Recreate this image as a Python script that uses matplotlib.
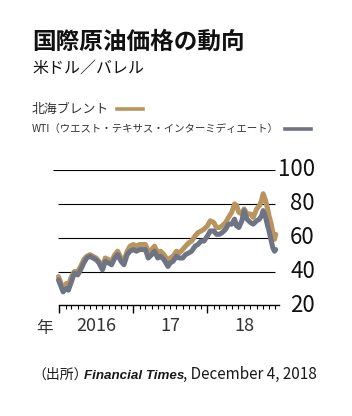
import numpy as np
import matplotlib.pyplot as plt
import matplotlib.dates as mdates
import matplotlib.transforms as mtransforms
from matplotlib.lines import Line2D

plt.rcParams['font.family'] = ['Noto Sans CJK JP', 'DejaVu Sans']

# semi-monthly readings (USD / barrel)
dates = [
    "2015-12-28", "2016-01-10", "2016-01-20", "2016-02-05", "2016-02-15", "2016-03-01",
    "2016-03-15", "2016-04-01", "2016-04-15", "2016-05-01", "2016-05-15", "2016-06-01",
    "2016-06-15", "2016-07-01", "2016-07-15", "2016-08-01", "2016-08-15", "2016-09-01",
    "2016-09-15", "2016-10-01", "2016-10-15", "2016-11-01", "2016-11-15", "2016-12-01",
    "2016-12-15", "2017-01-01", "2017-01-15", "2017-02-01", "2017-02-15", "2017-03-01",
    "2017-03-15", "2017-04-01", "2017-04-15", "2017-05-01", "2017-05-15", "2017-06-01",
    "2017-06-20", "2017-07-01", "2017-07-15", "2017-08-01", "2017-08-15", "2017-09-01",
    "2017-09-15", "2017-10-01", "2017-10-15", "2017-11-01", "2017-11-15", "2017-12-01",
    "2017-12-15", "2018-01-01", "2018-01-15", "2018-02-01", "2018-02-15", "2018-03-01",
    "2018-03-15", "2018-04-01", "2018-04-15", "2018-05-01", "2018-05-15", "2018-05-25",
    "2018-06-05", "2018-06-20", "2018-07-01", "2018-07-15", "2018-08-01", "2018-08-15",
    "2018-09-01", "2018-09-15", "2018-09-25", "2018-10-03", "2018-10-15", "2018-10-25",
    "2018-11-01", "2018-11-12", "2018-11-20", "2018-11-28", "2018-12-04",
]
brent = [
    37, 33, 29, 33, 32, 37,
    40, 40, 43, 47, 49, 50,
    49, 48, 46, 43, 48, 47,
    46, 50, 52, 48, 46, 52,
    55, 56, 55, 56, 56, 56,
    52, 53, 55, 51, 52, 50,
    46, 48, 49, 52, 51, 53,
    55, 57, 58, 61, 63, 64,
    65, 67, 70, 69, 66, 66,
    67, 69, 72, 75, 80, 79,
    75, 74, 77, 74, 74, 72,
    77, 79, 82, 86, 82, 77,
    73, 68, 63, 59, 62,
]
wti = [
    35, 31, 28, 30, 29, 34,
    39, 38, 41, 45, 48, 49,
    48, 47, 45, 41, 46, 45,
    44, 48, 50, 46, 44, 50,
    52, 53, 52, 53, 53, 53,
    48, 50, 52, 48, 49, 47,
    43, 45, 46, 49, 48, 48,
    50, 51, 52, 55, 56, 58,
    58, 61, 64, 64, 62, 62,
    63, 65, 68, 68, 71, 67,
    66, 70, 76, 71, 69, 68,
    70, 71, 73, 76, 72, 67,
    64, 58, 54, 52, 53,
]
y_ticks = [20, 40, 60, 80, 100]
year_labels = ["2016", "17", "18"]
year_label_dates = ["2016-07-01", "2017-07-01", "2018-07-01"]

BRENT_COLOR = "#b8945f"
WTI_COLOR = "#6f7484"
W, H = 352, 416

def num(s):
    return mdates.date2num(np.datetime64(s))

fig = plt.figure(figsize=(W / 100, H / 100), dpi=100)
ax = fig.add_axes([53 / W, 1 - 305.4 / H, 229 / W, 135.4 / H])

d = np.array(dates, dtype="datetime64[D]")
ax.plot(d, brent, color=BRENT_COLOR, lw=3.6, solid_joinstyle="round",
        solid_capstyle="round", clip_on=False, zorder=3)
ax.plot(d, wti, color=WTI_COLOR, lw=3.6, solid_joinstyle="round",
        solid_capstyle="round", clip_on=False, zorder=4)

ax.set_xlim(num("2015-12-01"), num("2019-01-04"))
ax.set_ylim(20, 100)

# grid lines (the 100 line starts a little further left)
for v in y_ticks[1:]:
    start = "2015-12-01" if v == 100 else "2015-12-24"
    ax.hlines(v, num(start), num("2018-12-01"), color="black", lw=0.8, zorder=1)

for side in ["left", "right", "top"]:
    ax.spines[side].set_visible(False)
ax.spines["bottom"].set_bounds(num("2016-01-01"), num("2018-12-18"))
ax.spines["bottom"].set_linewidth(1.0)

major = [num(f"{y}-01-01") for y in (2016, 2017, 2018)]
minor = [num(f"{y}-{m:02d}-01") for y in (2016, 2017, 2018) for m in range(2, 13)]
ax.xaxis.set_major_locator(plt.FixedLocator(major))
ax.xaxis.set_minor_locator(plt.FixedLocator(minor))
ax.set_xticklabels([])
ax.tick_params(axis="x", which="major", length=5.5, width=1.0, direction="out")
ax.tick_params(axis="x", which="minor", length=3.2, width=0.8, direction="out")
ax.set_yticks([])

trans = mtransforms.blended_transform_factory(ax.transAxes, ax.transData)
for v in y_ticks:
    ax.text((315 - 53) / 229, v, str(v), ha="right", va="center",
            fontsize=16, color="#111111", transform=trans)

trans_x = mtransforms.blended_transform_factory(ax.transData, fig.transFigure)
for lab, dt in zip(year_labels, year_label_dates):
    ax.text(num(dt), 1 - 326 / H, lab, ha="center", va="center",
            fontsize=13, color="#333333", transform=trans_x)
fig.text(45 / W, 1 - 328 / H, "年", ha="center", va="center", fontsize=12, color="#333333")

# headings
fig.text(32 / W, 1 - 42 / H, "国際原油価格の動向", fontsize=17, fontweight="bold",
         va="center", ha="left", color="#111111")
fig.text(32 / W, 1 - 68 / H, "米ドル／バレル", fontsize=11.5, va="center", ha="left",
         color="#111111")

# legend
fig.text(32 / W, 1 - 109 / H, "北海ブレント", fontsize=9.3, va="center", ha="left", color="#333333")
fig.add_artist(Line2D([117 / W, 143 / W], [1 - 109 / H] * 2, color=BRENT_COLOR, lw=2.6))
fig.text(32 / W, 1 - 129 / H, "WTI（ウエスト・テキサス・インターミディエート）", fontsize=7.5,
         va="center", ha="left", color="#333333")
fig.add_artist(Line2D([285 / W, 311 / W], [1 - 129 / H] * 2, color=WTI_COLOR, lw=2.6))

# source line, pieces laid out one after another
renderer = fig.canvas.get_renderer()
x = 32
for s, kw, gap in [("（出所）", dict(fontsize=10), -3),
                   ("Financial Times", dict(fontsize=9.6, family="Liberation Sans",
                                            fontweight="bold", fontstyle="italic"), -1.5),
                   (", December 4, 2018", dict(fontsize=11), 0)]:
    t = fig.text(x / W, 1 - 379 / H, s, va="baseline", ha="left", color="#1a1a1a", **kw)
    x = t.get_window_extent(renderer).x1 + gap

fig.savefig("out.png", dpi=100, facecolor="white")
